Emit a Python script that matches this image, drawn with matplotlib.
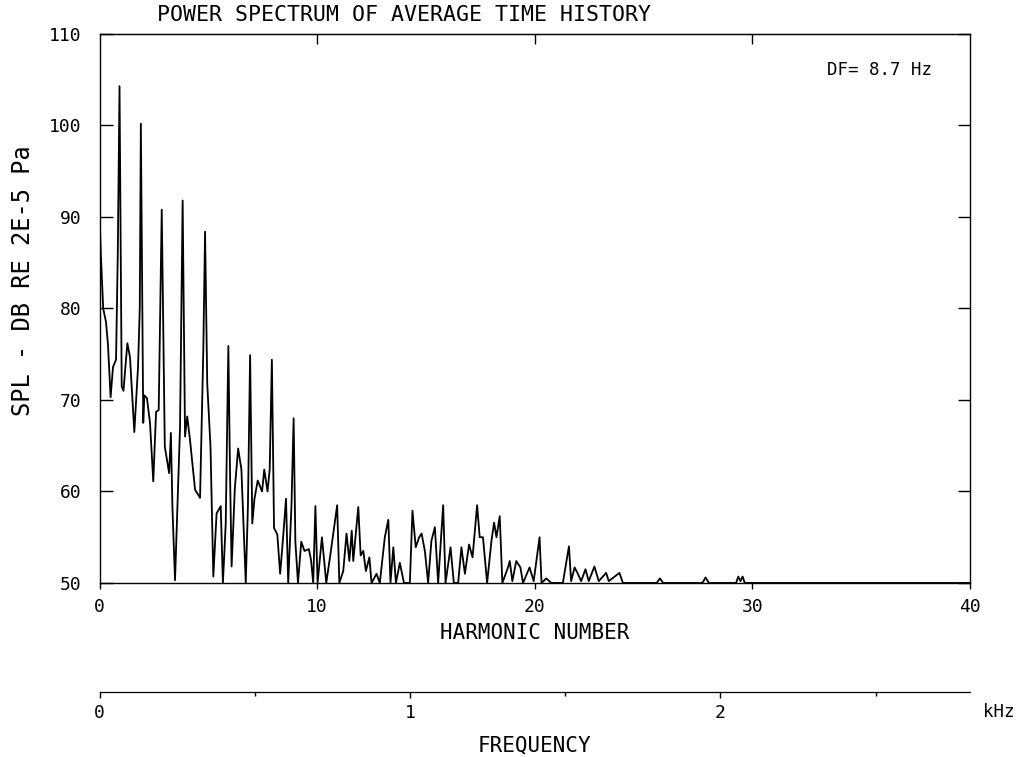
import matplotlib
matplotlib.use("Agg")
import matplotlib.pyplot as plt
from matplotlib.ticker import MultipleLocator

# spectrum vertices: harmonic number, SPL (dB)
harmonic = [
    0.00, 0.06, 0.17, 0.30, 0.39, 0.51, 0.62, 0.76, 0.84, 0.92,
    1.02, 1.10, 1.28, 1.40, 1.60, 1.77, 1.85, 1.90,
    2.01, 2.06, 2.18, 2.32, 2.47, 2.60, 2.72, 2.86,
    3.00, 3.20, 3.28, 3.35, 3.47, 3.57, 3.70, 3.82,
    3.93, 4.03, 4.16, 4.39, 4.62, 4.77, 4.85,
    4.95, 5.10, 5.23, 5.38, 5.57, 5.67, 5.80, 5.92,
    6.00, 6.07, 6.22, 6.37, 6.52, 6.72, 6.82, 6.92,
    7.02, 7.12, 7.27, 7.47, 7.57, 7.72, 7.82, 7.92,
    8.02, 8.17, 8.30, 8.42, 8.57, 8.67, 8.82, 8.92,
    9.00, 9.12, 9.27, 9.42, 9.62, 9.72, 9.82, 9.92,
    10.02, 10.22, 10.42, 10.62, 10.92,
    11.02, 11.20, 11.35, 11.48, 11.59, 11.66, 11.89,
    12.00, 12.12, 12.24, 12.40, 12.50, 12.73, 12.88,
    13.11, 13.27, 13.37, 13.50, 13.62, 13.80, 13.99,
    14.26, 14.38, 14.53, 14.69, 14.80, 14.95,
    15.10, 15.25, 15.41, 15.56, 15.79, 15.90,
    16.13, 16.28, 16.48, 16.63, 16.79, 16.98,
    17.14, 17.35, 17.47, 17.62, 17.81,
    18.01, 18.13, 18.24, 18.39, 18.51, 18.77, 18.85, 18.97,
    19.15, 19.34, 19.46, 19.76, 19.95,
    20.22, 20.31, 20.53, 20.76, 21.29, 21.57, 21.67, 21.83, 21.98,
    22.13, 22.33, 22.48, 22.74, 22.94, 23.28, 23.40, 23.89, 24.05,
    25.60, 25.75, 25.90, 27.70, 27.85, 28.00,
    29.25, 29.35, 29.45, 29.55, 29.65, 40.00,
]
spl_db = [
    90.5, 86.0, 80.0, 78.5, 76.0, 70.3, 73.6, 74.4, 86.0, 104.3,
    71.5, 71.0, 76.2, 74.7, 66.5, 73.6, 80.0, 100.2,
    67.5, 70.5, 70.2, 67.5, 61.1, 68.7, 68.9, 90.8,
    64.9, 62.0, 66.4, 58.3, 50.3, 57.6, 67.0, 91.8,
    66.0, 68.2, 65.6, 60.2, 59.3, 75.5, 88.4,
    71.8, 64.9, 50.7, 57.6, 58.4, 50.0, 56.5, 75.9,
    61.6, 51.8, 60.4, 64.7, 62.4, 50.0, 58.4, 74.9,
    56.5, 59.2, 61.2, 60.0, 62.4, 60.0, 62.4, 74.4,
    56.0, 55.3, 51.0, 54.5, 59.2, 50.0, 58.4, 68.0,
    54.5, 50.0, 54.5, 53.5, 53.7, 52.5, 50.0, 58.4,
    50.0, 55.0, 50.0, 53.3, 58.5,
    50.0, 51.3, 55.4, 52.4, 55.7, 52.4, 58.3,
    53.0, 53.5, 51.3, 52.8, 50.0, 51.0, 50.0,
    55.0, 56.9, 50.0, 53.9, 50.0, 52.2, 50.0,
    50.0, 57.9, 53.9, 55.0, 55.4, 53.5,
    50.0, 54.6, 56.1, 50.0, 58.5, 50.0,
    53.9, 50.0, 50.0, 53.9, 51.0, 54.2,
    52.8, 58.5, 55.0, 55.0, 50.0,
    54.6, 56.6, 55.0, 57.3, 50.0, 51.7, 52.4, 50.2,
    52.4, 51.7, 50.0, 51.7, 50.2,
    55.0, 50.0, 50.5, 50.0, 50.0, 54.0, 50.2, 51.7, 51.0,
    50.2, 51.5, 50.2, 51.8, 50.2, 51.1, 50.2, 51.1, 50.0,
    50.0, 50.5, 50.0, 50.0, 50.6, 50.0,
    50.0, 50.7, 50.2, 50.7, 50.0, 50.0,
]

y_ticks = [50, 60, 70, 80, 90, 100, 110]
x_ticks = [0, 10, 20, 30, 40]
freq_ticks = [0, 1, 2]
F0_KHZ = 0.0701  # fundamental, harmonic 1

FONT = "DejaVu Sans Mono"
plt.rcParams["font.family"] = FONT

fig = plt.figure(figsize=(10.29, 7.57), dpi=100)
ax = fig.add_axes([0.0967, 0.2299, 0.8460, 0.7252])

ax.plot(harmonic, spl_db, color="black", lw=1.3)
ax.set_xlim(0, 40)
ax.set_ylim(50, 110)
ax.set_xticks(x_ticks)
ax.set_yticks(y_ticks)
ax.tick_params(axis="y", direction="in", length=9, width=1, left=True, right=True,
               labelsize=13, pad=13)
ax.tick_params(axis="x", direction="out", length=4, width=1, labelsize=13, pad=7)
for s in ax.spines.values():
    s.set_linewidth(1.0)

top = ax.secondary_xaxis("top")
top.set_xticks([10, 20, 30])
top.tick_params(direction="in", length=7, width=1, labeltop=False)

ax.set_xlabel("HARMONIC NUMBER", fontsize=15, labelpad=5)
ax.set_ylabel("SPL - DB RE 2E-5 Pa", fontsize=17)
ax.yaxis.set_label_coords(-0.0745, 0.55)
fig.text(157 / 1029, 1 - 15 / 757, "POWER SPECTRUM OF AVERAGE TIME HISTORY",
         fontsize=15.5, ha="left", va="center")
fig.text(827 / 1029, 1 - 70 / 757, "DF= 8.7 Hz", fontsize=12.5, ha="left", va="center")

# frequency scale below
fax = fig.add_axes([0.0967, 1 - 692 / 757, 0.8460, 0.0001])
fax.set_xlim(0, 40 * F0_KHZ)
fax.set_xticks(freq_ticks)
fax.xaxis.set_minor_locator(MultipleLocator(0.5))
fax.set_yticks([])
for side in ("top", "left", "right"):
    fax.spines[side].set_visible(False)
fax.spines["bottom"].set_linewidth(0.9)
fax.patch.set_visible(False)
fax.tick_params(axis="x", which="major", direction="out", length=4, width=1,
                labelsize=13, pad=5)
fax.tick_params(axis="x", which="minor", direction="out", length=3, width=1)
fax.set_xlabel("FREQUENCY", fontsize=15, labelpad=9)
fig.text(999 / 1029, 1 - 712 / 757, "kHz", fontsize=12.5, ha="center", va="center")

fig.savefig("out.png", dpi=100)
